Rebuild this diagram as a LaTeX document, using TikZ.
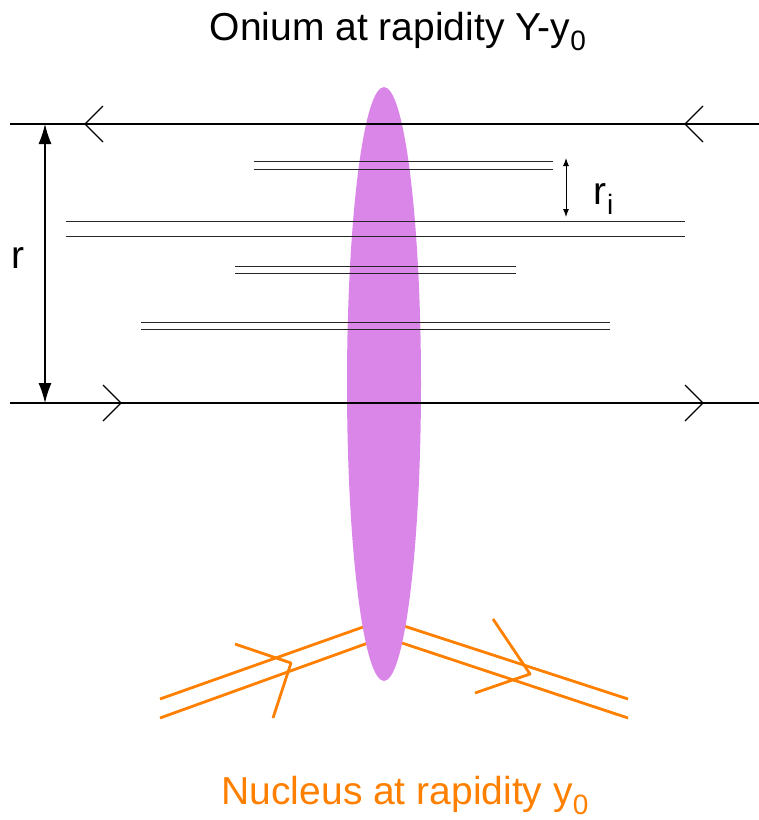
\documentclass[tikz,border=0pt]{standalone}
\usepackage{fontspec}
\setmainfont{Liberation Sans}
\usepackage{tikz}
\usetikzlibrary{calc,arrows.meta}
\definecolor{on-purple}{HTML}{DA86E8}
\definecolor{nu-orange}{HTML}{FF8000}
\newcommand{\lowsub}[1]{\raisebox{-10pt}{\fontsize{28}{30}\selectfont #1}}
\tikzset{
    dipole/.style={line width=1.1pt, black},
    chevron/.style={line width=1.1pt, black},
    gluon/.style={line width=1pt, black!85},
    nucleon/.style={line width=2.8pt, nu-orange, line join=round},
    label/.style={inner sep=0pt, font=\fontsize{39}{46}\selectfont}
}
\begin{document}
\begin{tikzpicture}[x=1pt, y=-1pt]
    \useasboundingbox (0,0) rectangle (759,820);
    % texts
    \node[label, anchor=base] (title) at (398,40) {Onium at rapidity Y-y\lowsub{0}};
    \node[label, anchor=base, text=nu-orange] (nucleus) at (405,804) {Nucleus at rapidity y\lowsub{0}};
    % nucleus lines, under the ellipse
    \coordinate (nl1) at (160,699); \coordinate (nl1e) at (366,626);
    \coordinate (nl2) at (160,718); \coordinate (nl2e) at (368,643);
    \coordinate (nr1) at (628,699); \coordinate (nr1e) at (404,626);
    \coordinate (nr2) at (628,718); \coordinate (nr2e) at (402,643);
    \draw[nucleon] (nl1) -- (nl1e);
    \draw[nucleon] (nl2) -- (nl2e);
    \draw[nucleon] (nr1) -- (nr1e);
    \draw[nucleon] (nr2) -- (nr2e);
    \draw[nucleon] (235,644) -- (291,663) -- (273,718);
    \draw[nucleon] (493,619) -- (530,674) -- (475,693);
    % the nucleus seen by the onium
    \fill[on-purple] (384,384) ellipse [x radius=37pt, y radius=297pt];
    % onium quark lines
    \coordinate (qa) at (10,124); \coordinate (qb) at (759,124);
    \coordinate (pa) at (10,403); \coordinate (pb) at (759,403);
    \draw[dipole] (qa) -- (qb);
    \draw[dipole] (pa) -- (pb);
    \foreach \x in {85,685}
        \draw[chevron] (\x+18,106) -- (\x,124) -- (\x+18,142);
    \foreach \x in {103,685}
        \draw[chevron] (\x,385) -- (\x+18,403) -- (\x,421);
    % gluon pairs
    \foreach \xa/\xb/\ya/\yb in {254/553/161/169, 66/685/221/236, 235/516/266/273, 141/610/322/329} {
        \draw[gluon] (\xa,\ya) -- (\xb,\ya);
        \draw[gluon] (\xa,\yb) -- (\xb,\yb);
    }
    % sizes
    \coordinate (ra) at (45,124); \coordinate (rb) at (45,403);
    \draw[line width=1.2pt, {Latex[length=20pt,width=13pt]}-{Latex[length=20pt,width=13pt]}] (ra) -- (rb);
    \node[label] (r) at (18,258) {r};
    \coordinate (ria) at (566,158); \coordinate (rib) at (566,217);
    \draw[line width=1pt, {Latex[length=8pt,width=6pt]}-{Latex[length=8pt,width=6pt]}] (ria) -- (rib);
    \node[label, anchor=base west] (ri) at (593,204) {r\lowsub{\kern1pt i}};
\end{tikzpicture}
\end{document}
